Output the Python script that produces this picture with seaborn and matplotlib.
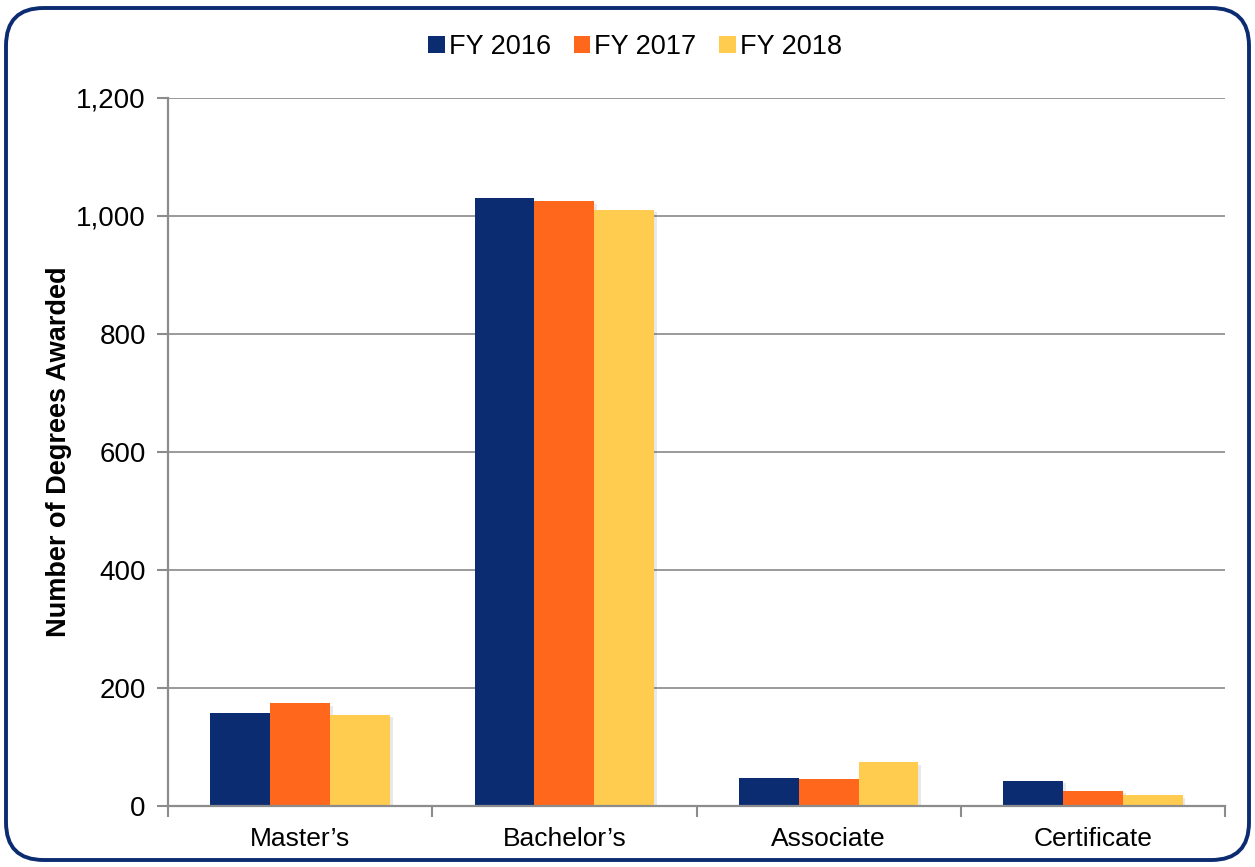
import matplotlib
matplotlib.use("Agg")
import matplotlib.pyplot as plt
import matplotlib.patheffects as pe
from matplotlib.patches import FancyBboxPatch, Patch
from matplotlib.ticker import FuncFormatter, FixedLocator
import seaborn as sns
import pandas as pd

# Degrees awarded by level and fiscal year
degrees = ["Master\u2019s", "Bachelor\u2019s", "Associate", "Certificate"]
years = ["FY 2016", "FY 2017", "FY 2018"]
fy2016 = [157, 1030, 47, 43]
fy2017 = [175, 1025, 46, 26]
fy2018 = [155, 1011, 74, 19]
colors = ["#0C2C72", "#FF681C", "#FFCC50"]

rows = []
for year, vals in zip(years, [fy2016, fy2017, fy2018]):
    for d, v in zip(degrees, vals):
        rows.append({"Degree": d, "Year": year, "Count": v})
df = pd.DataFrame(rows)

sns.set_theme(style="white")
plt.rcParams["font.family"] = ["Liberation Sans", "DejaVu Sans"]
plt.rcParams["text.color"] = "black"

fig = plt.figure(figsize=(12.55, 8.67), dpi=100)
ax = fig.add_axes([168 / 1255, 1 - 806 / 867, (1225 - 168) / 1255, (806 - 98) / 867])

sns.barplot(data=df, x="Degree", y="Count", hue="Year", order=degrees,
            hue_order=years, palette=colors, saturation=1, width=0.68,
            errorbar=None, ax=ax, legend=False, zorder=3)

for bar in ax.patches:
    bar.set_edgecolor("none")
    bar.set_path_effects([pe.SimplePatchShadow(offset=(2, -2), alpha=0.12,
                                               shadow_rgbFace="#444444"),
                          pe.Normal()])

ax.set_xlim(-0.5, 3.5)
ax.set_ylim(0, 1200)
ax.set_yticks(range(0, 1201, 200))
ax.yaxis.set_major_formatter(FuncFormatter(lambda v, p: f"{int(v):,}"))
ax.grid(axis="y", color="#9a9a9a", linewidth=1.4, zorder=0)
ax.set_axisbelow(True)

for s in ["top", "right"]:
    ax.spines[s].set_visible(False)
for s in ["left", "bottom"]:
    ax.spines[s].set_color("#8c8c8c")
    ax.spines[s].set_linewidth(1.6)
    ax.spines[s].set_zorder(4)

ax.tick_params(axis="y", which="major", length=8, width=1.5, color="#8c8c8c",
               labelsize=20, labelcolor="black", pad=8, left=True)
ax.tick_params(axis="x", which="major", length=0, labelsize=19,
               labelcolor="black", pad=15, bottom=True)
ax.xaxis.set_minor_locator(FixedLocator([-0.5, 0.5, 1.5, 2.5, 3.5]))
ax.tick_params(axis="x", which="minor", length=8, width=1.5, color="#8c8c8c",
               bottom=True)

ax.set_xlabel("")
ax.set_ylabel("Number of Degrees Awarded", fontsize=19.5, fontweight="bold",
              color="black", labelpad=3)

handles = [Patch(facecolor=c, edgecolor="none") for c in colors]
fig.legend(handles, years, loc="center", bbox_to_anchor=(0.506, 0.946),
           ncol=3, frameon=False, fontsize=19.5, handlelength=0.6,
           handleheight=0.6, handletextpad=0.15, columnspacing=0.85)

frame = FancyBboxPatch((6 / 1255, 7 / 867), 1243 / 1255, 852 / 867,
                       boxstyle="round,pad=0,rounding_size=0.03",
                       transform=fig.transFigure, facecolor="none",
                       edgecolor="#0C2C72", linewidth=2.8, zorder=10,
                       mutation_aspect=1255 / 867)
fig.patches.append(frame)

fig.savefig("out.png", dpi=100)
